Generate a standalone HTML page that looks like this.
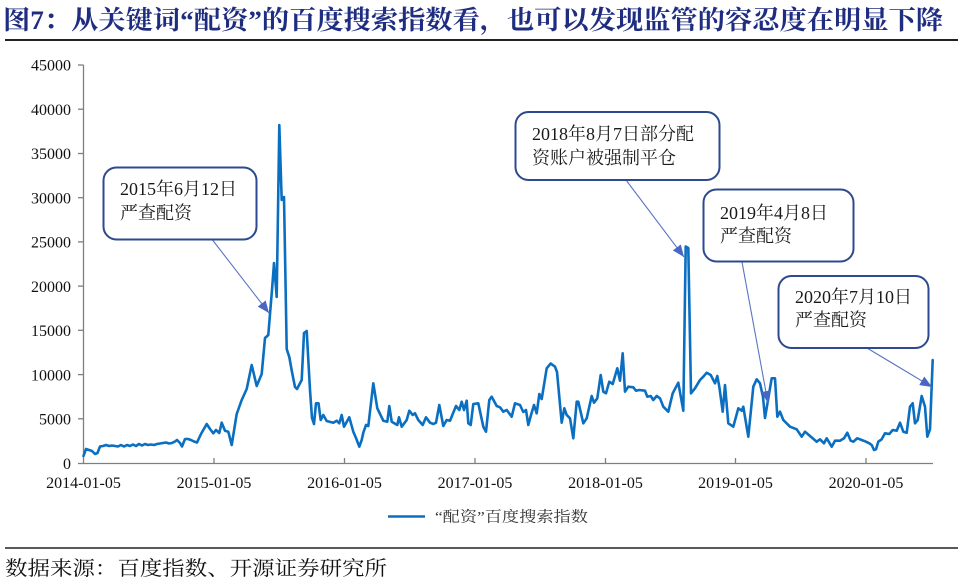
<!DOCTYPE html>
<html>
<head>
<meta charset="utf-8">
<style>
  html,body{margin:0;padding:0;background:#fff;}
  svg{display:block;}
  .ser{font-family:"Liberation Serif","Noto Serif CJK SC",serif;}
</style>
</head>
<body>
<svg width="963" height="580" viewBox="0 0 963 580" xmlns="http://www.w3.org/2000/svg">
  <defs>
    <marker id="ah" markerUnits="userSpaceOnUse" markerWidth="12" markerHeight="10" refX="12" refY="5" orient="auto">
      <path d="M0,0 L12,5 L0,10 z" fill="#4a66c4"/>
    </marker>
  </defs>

  <!-- Title -->
  <text class="ser" x="3" y="29" font-size="26" font-weight="bold" fill="#1f2d80" textLength="940" lengthAdjust="spacingAndGlyphs">图7：从关键词“配资”的百度搜索指数看，也可以发现监管的容忍度在明显下降</text>
  <line x1="5" y1="40" x2="958" y2="40" stroke="#222" stroke-width="2"/>

  <!-- Axes -->
  <g stroke="#7f7f7f" stroke-width="1.3" fill="none">
    <line x1="83.5" y1="65" x2="83.5" y2="463.5"/>
    <line x1="83" y1="463.5" x2="933" y2="463.5"/>
    <!-- y ticks -->
    <line x1="78" y1="463.5" x2="83.5" y2="463.5"/>
    <line x1="78" y1="418.8" x2="83.5" y2="418.8"/>
    <line x1="78" y1="374.6" x2="83.5" y2="374.6"/>
    <line x1="78" y1="330.3" x2="83.5" y2="330.3"/>
    <line x1="78" y1="286.1" x2="83.5" y2="286.1"/>
    <line x1="78" y1="241.9" x2="83.5" y2="241.9"/>
    <line x1="78" y1="197.7" x2="83.5" y2="197.7"/>
    <line x1="78" y1="153.5" x2="83.5" y2="153.5"/>
    <line x1="78" y1="109.2" x2="83.5" y2="109.2"/>
    <line x1="78" y1="65" x2="83.5" y2="65"/>
    <!-- x ticks -->
    <line x1="214" y1="458" x2="214" y2="463.5"/>
    <line x1="344.5" y1="458" x2="344.5" y2="463.5"/>
    <line x1="475" y1="458" x2="475" y2="463.5"/>
    <line x1="605.5" y1="458" x2="605.5" y2="463.5"/>
    <line x1="735.5" y1="458" x2="735.5" y2="463.5"/>
    <line x1="866" y1="458" x2="866" y2="463.5"/>
  </g>

  <!-- y labels -->
  <g class="ser" font-size="16" fill="#111" text-anchor="end">
    <text x="71" y="469">0</text>
    <text x="71" y="424.5">5000</text>
    <text x="71" y="380.3">10000</text>
    <text x="71" y="336">15000</text>
    <text x="71" y="291.8">20000</text>
    <text x="71" y="247.6">25000</text>
    <text x="71" y="203.4">30000</text>
    <text x="71" y="159.2">35000</text>
    <text x="71" y="114.9">40000</text>
    <text x="71" y="70.7">45000</text>
  </g>

  <!-- x labels -->
  <g class="ser" font-size="16" fill="#111" text-anchor="middle">
    <text x="83.5" y="488">2014-01-05</text>
    <text x="214" y="488">2015-01-05</text>
    <text x="344.5" y="488">2016-01-05</text>
    <text x="475" y="488">2017-01-05</text>
    <text x="605.5" y="488">2018-01-05</text>
    <text x="735.5" y="488">2019-01-05</text>
    <text x="866" y="488">2020-01-05</text>
  </g>

  <!-- Series -->
  <polyline fill="none" stroke="#0b6fc1" stroke-width="2.6" stroke-linejoin="round" stroke-linecap="round" points="
83.5,456 86,449 89,450 92,451 95,454 97.5,453 100,446.5 103,446 106,445 109,446 112,445.5 115,446 118,446.5 121,445 124,446.5 127,445 130,446 133,444.5 136,446 139,444 142,445.5 145,444 148,445 151,444.5 154,445 157,444 160,443.5 163,443 166,442.5 169,443.5 172,443 175,441.5 177,440 180,443 182,446.5 185,439 188,439 191,440 194,441.5 197,442.5
201,434 206.7,424 210,429 213.3,433.3 216,430 219.3,433 221.7,422.7 225,430.7 228.3,431.7 231.7,445 236.7,414 241.7,400 246.7,389 251.7,365 256.7,386 261.7,374 265,338 268.3,335 270,314 272,290 274,263 276.7,297 279.3,125 281.7,200 284,197 286.7,349 289.3,357 292,372 295,387 297,389 301.7,380 304,333 306.7,331 310,390 312,418 314,424 316,403.3 318.5,403.3 320.7,420 323.3,415 326.7,421 333.3,422.7 336.7,420.7 339.3,423.3 341.7,415 344,426.7 349.3,417.3 353.3,431.7 356,438 359.3,446.7 361.7,440 363.3,432.7 366,425 368.3,426 373.3,383.3 377.3,408.3 383.3,420.7 387.3,421.7 389.3,406 391.7,421.7 397.3,425 399,417.3 401.7,426.7 406.7,420 409.3,410.7 412.7,415 415,413.3 418.3,420 422.7,425 426,417.3 430,422.7 433.3,424 436,422.7 439.3,405 443.3,426 446.7,420 450,420.7 456,406 459.3,410 461.7,401.7 464,410 466.7,400.7 468.3,423.3 470.7,425 473.3,404 478.3,403.3 483.3,426.7 486,431.7 489.3,400 491.7,396.7 496.7,406 500,407.3 503.3,411.7 506.7,410 511.7,416.7 515,403.3 520,405 523.3,412 526,410 528.3,425 531,415 534,405 536.7,413.3 539.3,394 541.7,399 546.7,368.3 550.7,363.5 555,366.7 557,372 561.7,422.7 564.3,408.3 566.7,415 570,418.3 573.3,438.3 576.7,401.7 578.3,401.7 583.3,423.3 586.7,418.3 591.7,396 594,402.7 597.3,398.3 600.7,375 603.3,391.7 606,393.3 609.3,381.7 612.7,384 617.3,368.3 620,380.7 622.7,353.3 625,391.7 628.3,386.7 633.3,387.3 636,390.7 639.3,390 645,390.7 647.3,396.7 650.7,396 653.3,400 656.7,396 660,398.3 663.3,406.7 668.3,411.7 672.7,393.3 678.3,382.7 683.3,410.7 685.7,246.5 688.3,248 691,393.3 695,388.3 700,380 703.3,376.7 706.7,372.7 710.7,375 715,383.3 717.3,376 719.3,386.7 722.7,411.7 725,385 728.3,423.3 733.3,426.7 738.3,408.3 741.7,410.7 743.3,406.7 748.3,436.7 753.3,386.7 756.7,379.3 760,383.3 763,397 765,418 768.3,398.3 771.7,378.3 775,378.3 777.3,416.7 780,411.7 783.3,420 790,426.7 796.7,429.3 801.7,436.7 805,431.7 810,436 816.7,441.7 820,439.3 824,443.3 826.7,438.3 831.7,446.7 835,440.7 840,440.7 844,438.3 847.3,432.7 850.7,440.7 853.3,441.7 857.3,438.3 861.7,440 866,441.7 869.3,443.3 871.7,445 874,450 876,449.3 878.3,441.7 881.7,439.3 885,433.3 889.3,434 892.7,430 896.7,430.7 900,422.7 903.3,431.7 906.7,432.7 910,406.7 912.7,403.3 915,423.3 917.7,420 921.7,396 925,406.7 927.3,436.7 930,429.3 932.7,360"/>

  <!-- Callout arrows -->
  <g stroke="#5a74c4" stroke-width="1.1" fill="none">
    <line x1="211" y1="238" x2="269" y2="313" marker-end="url(#ah)"/>
    <line x1="626" y1="180" x2="684" y2="257" marker-end="url(#ah)"/>
    <line x1="742" y1="262" x2="768" y2="403" marker-end="url(#ah)"/>
    <line x1="867" y1="348" x2="932" y2="387" marker-end="url(#ah)"/>
  </g>

  <!-- Callout boxes -->
  <g fill="#fff" stroke="#2e4a8f" stroke-width="2">
    <rect x="103.5" y="167.5" width="153" height="72" rx="13" ry="13"/>
    <rect x="515.5" y="112" width="204" height="68" rx="13" ry="13"/>
    <rect x="703.5" y="189.5" width="150" height="72" rx="13" ry="13"/>
    <rect x="778.5" y="276" width="150" height="72" rx="13" ry="13"/>
  </g>

  <g class="ser" font-size="18" fill="#1a1a1a">
    <text x="120" y="195">2015年6月12日</text>
    <text x="120" y="219" letter-spacing="0">严查配资</text>

    <text x="532" y="140">2018年8月7日部分配</text>
    <text x="532" y="164">资账户被强制平仓</text>

    <text x="720" y="219">2019年4月8日</text>
    <text x="720" y="242">严查配资</text>

    <text x="795" y="303">2020年7月10日</text>
    <text x="795" y="326">严查配资</text>
  </g>

  <!-- Legend -->
  <line x1="388" y1="516.5" x2="425" y2="516.5" stroke="#0b6fc1" stroke-width="2.6"/>
  <text class="ser" x="435" y="521.5" font-size="15" fill="#333" textLength="153" lengthAdjust="spacingAndGlyphs">“配资”百度搜索指数</text>

  <!-- Footer -->
  <line x1="5" y1="548" x2="958" y2="548" stroke="#222" stroke-width="1.5"/>
  <text class="ser" x="5" y="575" font-size="20" fill="#111" textLength="382" lengthAdjust="spacingAndGlyphs">数据来源：百度指数、开源证券研究所</text>
</svg>
</body>
</html>
